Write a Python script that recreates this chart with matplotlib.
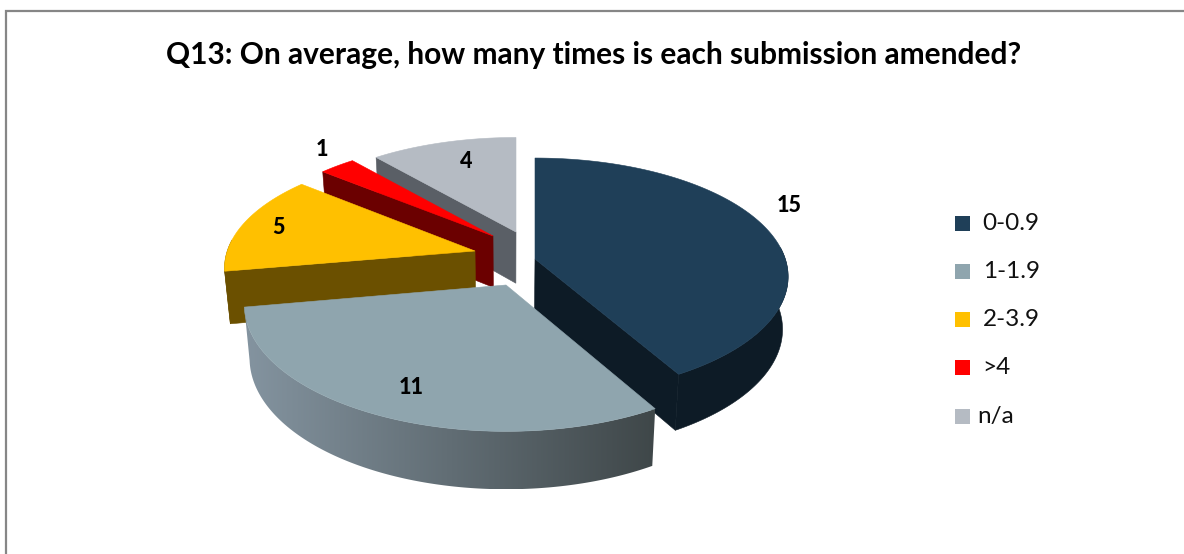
import numpy as np
import matplotlib
matplotlib.use("Agg")
import matplotlib.pyplot as plt
from matplotlib.patches import Polygon, Rectangle
from matplotlib.colors import LinearSegmentedColormap

TITLE = "Q13: On average, how many times is each submission amended?"
categories = ["0-0.9", "1-1.9", "2-3.9", ">4", "n/a"]
values = [15, 11, 5, 1, 4]

top_colors = ["#1F3F58", "#8FA5AE", "#FFC000", "#FF0000", "#B5BBC3"]
side_start = ["#0D1B26", "#3F4749", "#6B5000", "#6B0000", "#5A5F66"]
side_end = ["#0D1B26", "#8494A0", "#6B5000", "#6B0000", "#5A5F66"]
apex_px = [(535, 259), (506, 285), (475, 251), (493, 236), (516, 232)]
label_px = [(789, 205), (411, 387), (278, 227), (322, 150), (466, 161)]
legend_y = [223.5, 271.5, 319.5, 367.5, 416.5]
legend_text_x = [982, 983, 983, 982, 977]
draw_order = [4, 3, 2, 0, 1]

W, H = 1184, 554
CY, RX, RY, P, DEPTH, PULL, CX = 255.0, 249.0, 114.8, 0.148, 52.0, 0.98, 510.0

plt.rcParams["font.family"] = ["Lato", "DejaVu Sans"]
fig = plt.figure(figsize=(W / 100, H / 100), dpi=100)
ax = fig.add_axes([0, 0, 1, 1])
ax.axis("off")

ax.plot([6, 6, W], [H, 11, 11], color="#868686", lw=1.6, solid_joinstyle="miter", zorder=1)


def plane_b(y):
    return (CY - y) / (RY - P * (CY - y))


def rim(ax0, b, t):
    r = np.radians(t)
    v = b + np.cos(r)
    s = 1 / (1 + P * v)
    return ax0 + RX * np.sin(r) * s, CY - RY * v * s, s


def lower(x, y, s):
    return CX + (x - CX) * PULL, y + DEPTH * (0.5 + 0.5 * s)


cum = np.concatenate([[0], np.cumsum(values)]) / np.sum(values) * 360.0
z = 2
for i in draw_order:
    t0, t1 = cum[i], cum[i + 1]
    ax0, ay0 = apex_px[i]
    b = plane_b(ay0)
    as0 = 1 / (1 + P * b)
    bx0, by0 = lower(ax0, ay0, as0)
    ts = np.linspace(t0, t1, max(int((t1 - t0) * 2), 8))
    pts = [rim(ax0, b, t) for t in ts]
    tops = [p[:2] for p in pts]
    bots = [lower(*p) for p in pts]
    shown = [k for k, t in enumerate(ts) if np.cos(np.radians(t)) < 0.1]
    if len(shown) >= 2:
        rim_xy = [tops[k] for k in shown] + [bots[k] for k in shown[::-1]]
        if side_start[i] == side_end[i]:
            ax.add_patch(Polygon(rim_xy, closed=True, fc=side_start[i], ec=side_start[i], lw=0.4, zorder=z))
        else:
            xs = [q[0] for q in rim_xy]
            ys = [q[1] for q in rim_xy]
            cmap = LinearSegmentedColormap.from_list("rim", [side_end[i], side_start[i]])
            im = ax.imshow(np.linspace(0, 1, 256)[None, :], cmap=cmap, aspect="auto",
                           extent=(min(xs), max(xs), max(ys), min(ys)), zorder=z, interpolation="bilinear")
            clip = Polygon(rim_xy, closed=True, transform=ax.transData, fc="none", ec="none")
            ax.add_patch(clip)
            im.set_clip_path(clip)
    if 180 < t0 < 360:
        ax.add_patch(Polygon([(ax0, ay0), tops[0], bots[0], (bx0, by0)], closed=True,
                             fc=side_start[i], ec=side_start[i], lw=0.4, zorder=z + 0.1))
    if 0 < t1 < 180:
        ax.add_patch(Polygon([(ax0, ay0), tops[-1], bots[-1], (bx0, by0)], closed=True,
                             fc=side_end[i], ec=side_end[i], lw=0.4, zorder=z + 0.1))
    ax.add_patch(Polygon([(ax0, ay0)] + tops, closed=True,
                         fc=top_colors[i], ec=top_colors[i], lw=0.4, zorder=z + 0.2))
    z += 1

for v, (x, y) in zip(values, label_px):
    ax.text(x, y, str(v), ha="center", va="center", fontsize=15.5, fontweight=900, color="black", zorder=20)

for i, name in enumerate(categories):
    ax.add_patch(Rectangle((955, legend_y[i] - 7.5), 15, 15, fc=top_colors[i], ec="none", zorder=20))
    ax.text(legend_text_x[i], legend_y[i], name, ha="left", va="center", fontsize=17.5, color="#111111", zorder=20)

ax.text(594, 55, TITLE, ha="center", va="center", fontsize=21.5, fontweight="bold", color="black", zorder=20)

ax.set_xlim(0, W)
ax.set_ylim(H, 0)
fig.savefig("out.png", dpi=100, facecolor="white")
